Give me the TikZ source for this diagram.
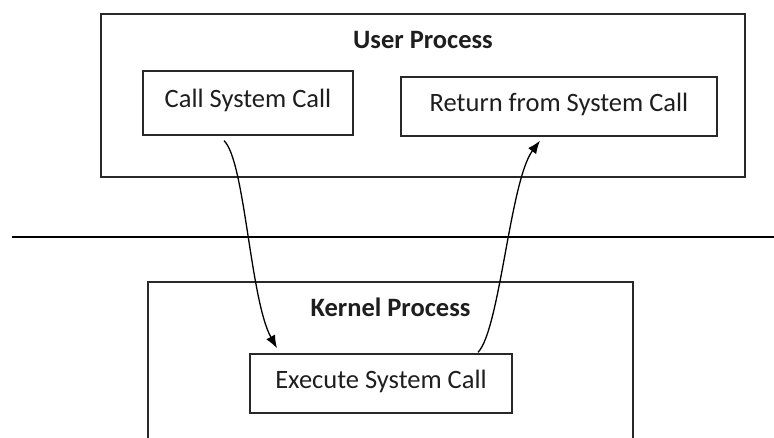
\documentclass[tikz,border=0pt]{standalone}
\usepackage{fontspec}
\setmainfont{Carlito}
\usetikzlibrary{arrows.meta, positioning, calc}
\definecolor{boxline}{RGB}{40,40,40}
\definecolor{textgray}{RGB}{30,30,30}

\begin{document}
\begin{tikzpicture}[
    x=1pt, y=1pt,
    procbox/.style={rectangle, draw=boxline, line width=1.3pt, inner sep=0pt},
    stepbox/.style={rectangle, draw=boxline, line width=1.3pt, inner sep=0pt, align=center, text=textgray, text depth=9pt, font=\fontsize{26.5}{32}\selectfont},
    title/.style={inner sep=0pt, text=textgray, font=\fontsize{26.5}{32}\selectfont\bfseries},
    arrow/.style={-{Latex[length=13pt,width=10pt]}, line width=1.3pt, color=black}
]
\clip (0,0) rectangle (774,437);
\fill[white] (0,0) rectangle (774,437);
% user side
\node[procbox, minimum width=644pt, minimum height=163pt] (userbox) at (423,341.5) {};
\node[title, below=18pt of userbox.north] (usertitle) {User Process};
\node[stepbox, minimum width=210pt, minimum height=64pt] (callbox) at (248,334) {Call System Call};
\node[stepbox, minimum width=316pt, minimum height=59pt] (retbox) at (559,330.5) {Return from System Call};
% boundary
\coordinate (lineleft) at (12,200);
\coordinate (lineright) at (774,200);
\draw[line width=2.8pt, black] (lineleft) -- (lineright);
% kernel side
\node[procbox, minimum width=485pt, minimum height=190pt] (kernelbox) at (390.5,60) {};
\node[title, below=16pt of kernelbox.north] (kerneltitle) {Kernel Process};
\node[stepbox, minimum width=262pt, minimum height=59pt] (execbox) at (381,53.5) {Execute System Call};
% transitions
\draw[arrow] ([xshift=-24pt,yshift=-5pt]callbox.south) .. controls +(21,-20) and +(-27,49) .. ([xshift=-104pt,yshift=5pt]execbox.north);
\draw[arrow] ([xshift=97pt,yshift=1pt]execbox.north) .. controls +(22,23) and +(-30,-40) .. ([xshift=-19pt,yshift=-4pt]retbox.south);
\end{tikzpicture}
\end{document}
